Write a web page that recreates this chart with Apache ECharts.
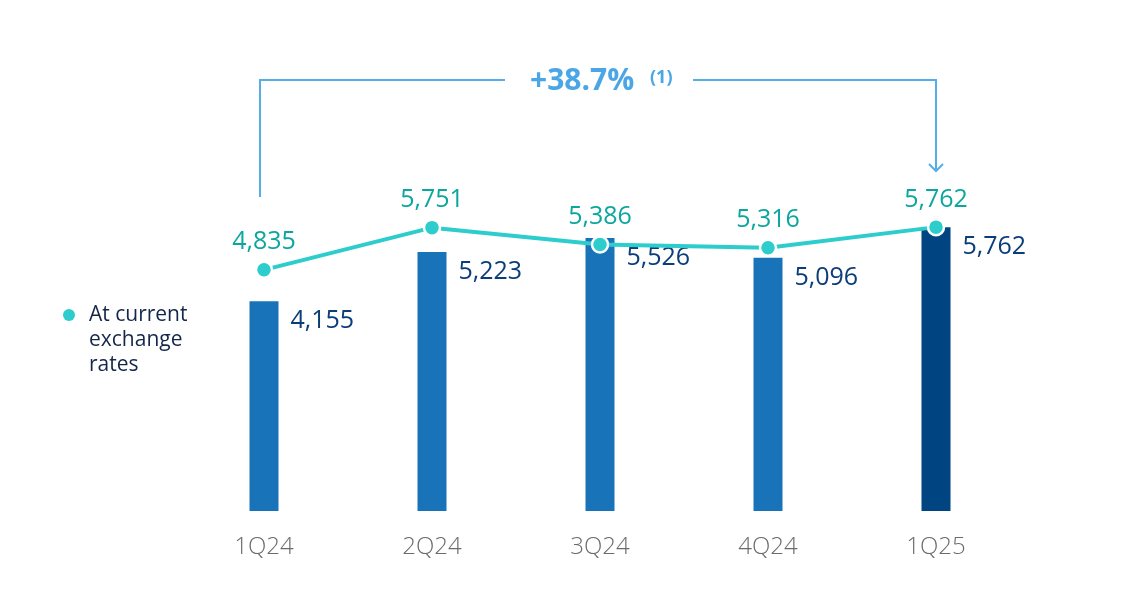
<!DOCTYPE html>
<html>
<head>
<meta charset="utf-8">
<script src="https://cdn.jsdelivr.net/npm/echarts@6/dist/echarts.min.js"></script>
<style>
html,body{margin:0;padding:0;background:#fff;}
#chart{width:1147px;height:595px;}
</style>
</head>
<body>
<div id="chart"></div>
<script>
var categories = ['1Q24', '2Q24', '3Q24', '4Q24', '1Q25'];
var barValues = [4155, 5223, 5526, 5096, 5762];
var lineValues = [4835, 5751, 5386, 5316, 5762];
var legendText = 'At current\nexchange\nrates';
var changeText = '+38.7%';
var noteText = '(1)';

var Y_MIN = -400, Y_MAX = 8500;
var FONT = '"Open Sans", "Noto Sans", sans-serif';
function fmt(v){ return v.toLocaleString('en-US'); }

var chart = echarts.init(document.getElementById('chart'));
var option = {
  animation: false,
  backgroundColor: '#ffffff',
  grid: { left: 180, right: 127, top: 101, bottom: 84 },
  xAxis: {
    type: 'category',
    data: categories,
    axisLine: { show: false },
    axisTick: { show: false },
    axisLabel: { color: '#6b6b6b', fontSize: 24, fontWeight: 300, fontFamily: FONT, margin: 24 }
  },
  yAxis: {
    type: 'value', min: Y_MIN, max: Y_MAX,
    show: false, splitLine: { show: false }
  },
  series: [
    {
      type: 'custom',
      name: 'bars',
      data: barValues.map(function(v, i){ return [i, v]; }),
      z: 2,
      renderItem: function(params, api){
        var idx = api.value(0);
        var top = api.coord([idx, api.value(1)]);
        var bottom = api.coord([idx, Y_MIN]);
        var w = 29;
        var isLast = params.dataIndex === barValues.length - 1;
        return {
          type: 'rect',
          shape: { x: top[0] - w / 2, y: top[1], width: w, height: bottom[1] - top[1] },
          style: { fill: isLast ? '#004481' : '#1973b8' },
          textContent: {
            style: {
              text: fmt(api.value(1)),
              fill: '#0b3d78',
              font: '500 25px ' + FONT,
              align: 'left',
              verticalAlign: 'middle'
            }
          },
          textConfig: { position: [w + 12, 20] }
        };
      }
    },
    {
      type: 'line',
      name: 'At current exchange rates',
      data: lineValues,
      z: 5,
      symbol: 'circle',
      symbolSize: 16,
      lineStyle: { color: '#2dcccd', width: 4 },
      itemStyle: { color: '#2dcccd', borderColor: '#ffffff', borderWidth: 2.5 },
      label: {
        show: true, position: 'top', distance: 6,
        color: '#0ba79f', fontSize: 25, fontWeight: 500, fontFamily: FONT,
        formatter: function(p){ return fmt(p.value); }
      }
    }
  ]
};
chart.setOption(option);

var p1 = chart.convertToPixel({ gridIndex: 0 }, [0, lineValues[0]]);
var p5 = chart.convertToPixel({ gridIndex: 0 }, [4, lineValues[4]]);
var xL = p1[0] - 4, xR = p5[0];
var yTop = 80;
var lineCol = '#55aee8';
chart.setOption({
  graphic: [
    { type: 'polyline', shape: { points: [[xL, 197], [xL, yTop], [505, yTop]] },
      style: { stroke: lineCol, lineWidth: 2, fill: null } },
    { type: 'polyline', shape: { points: [[693, yTop], [xR, yTop], [xR, 171]] },
      style: { stroke: lineCol, lineWidth: 2, fill: null } },
    { type: 'polyline', shape: { points: [[xR - 7, 164], [xR, 171], [xR + 7, 164]] },
      style: { stroke: lineCol, lineWidth: 2, fill: null } },
    { type: 'text', left: 530, top: 66,
      style: { text: changeText, fill: '#4aa6e6', font: 'bold 30px ' + FONT } },
    { type: 'text', left: 650, top: 69,
      style: { text: noteText, fill: '#4aa6e6', font: 'bold 18px ' + FONT } },
    { type: 'circle', shape: { cx: 69, cy: 315, r: 6 }, style: { fill: '#2dcccd' } },
    { type: 'text', left: 89, top: 303,
      style: { text: legendText, fill: '#14264a', font: '400 21px ' + FONT, lineHeight: 25 } }
  ]
});
</script>
</body>
</html>
